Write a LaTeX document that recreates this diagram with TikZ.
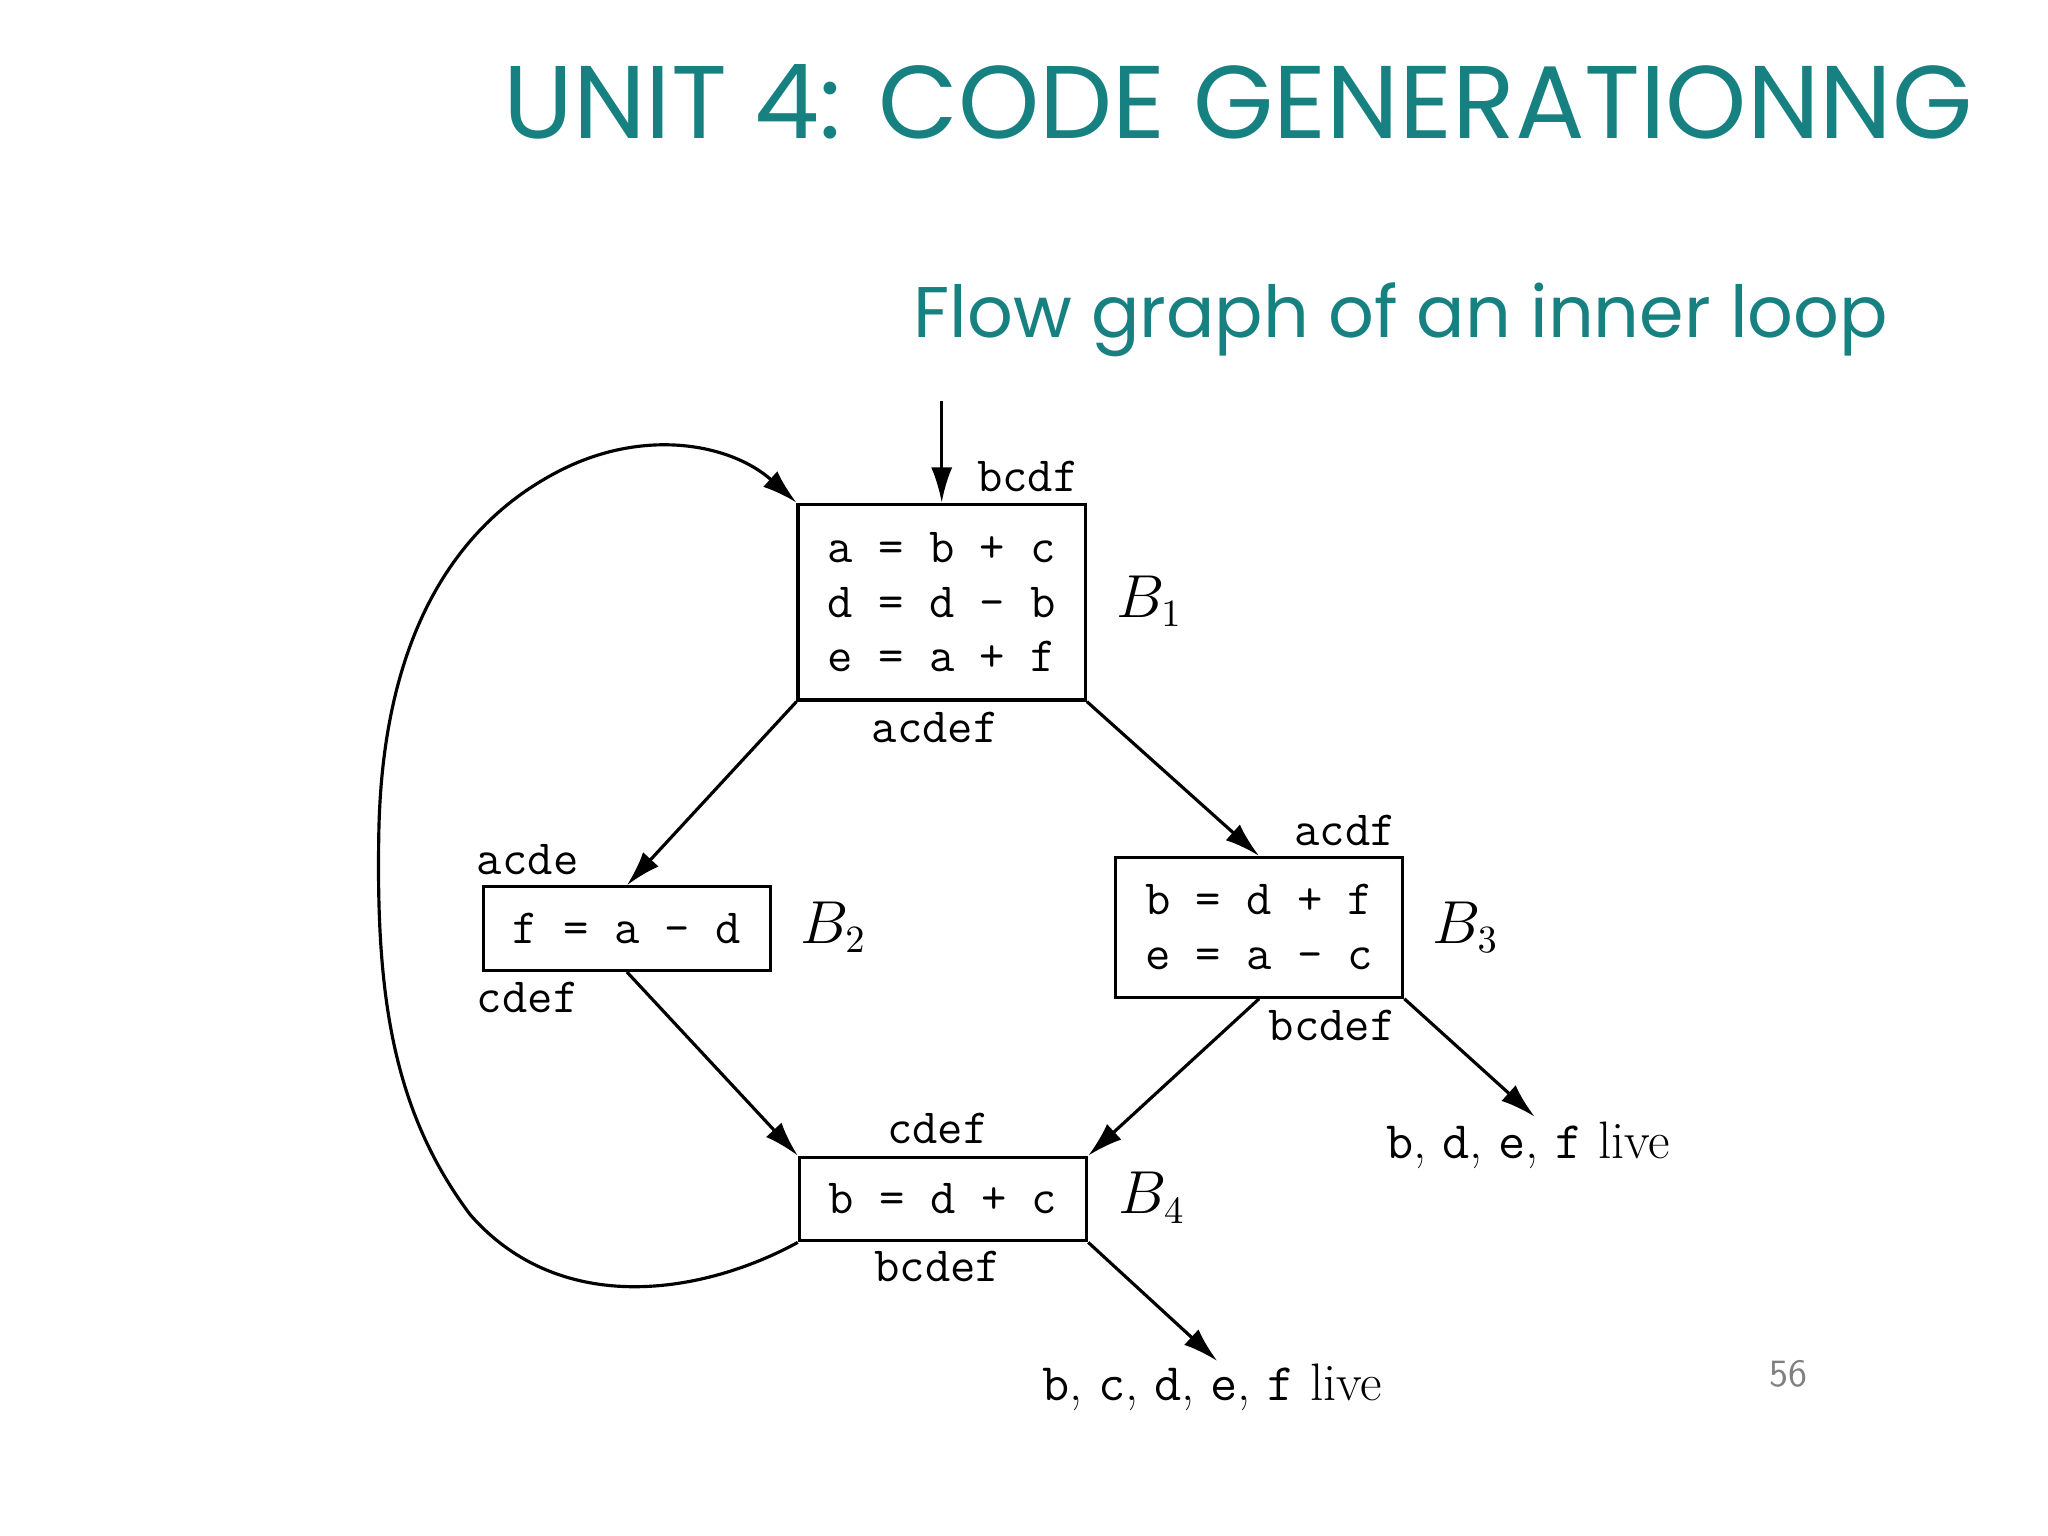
\documentclass[tikz,border=0pt]{standalone}
\usepackage{fontspec}
\newfontfamily\pop{Poppins}
\usetikzlibrary{arrows.meta}
\definecolor{teal1}{RGB}{23,128,128}
\begin{document}
\begin{tikzpicture}[x=0.01306cm,y=-0.01306cm,
  box/.style={draw,line width=0.9pt,rectangle,inner sep=0pt,align=left,font=\fontsize{14}{15.6}\selectfont\ttfamily},
  lab/.style={inner sep=0pt,font=\fontsize{14}{16}\selectfont\ttfamily},
  bl/.style={inner sep=0pt,font=\fontsize{16}{18}\selectfont},
  lv/.style={inner sep=0pt,font=\fontsize{15}{18}\selectfont},
  arr/.style={-{Latex[length=10pt,width=6pt]},line width=0.9pt}]
\useasboundingbox (0,0) rectangle (1568,1176);
\node[text=teal1,font=\pop\fontsize{29.4}{34}\selectfont,anchor=east] (title) at (1520,78) {UNIT 4: CODE GENERATIONNG};
\node[text=teal1,font=\pop\fontsize{20.4}{24}\selectfont,anchor=east] (sub) at (1455,245) {Flow graph of an inner loop};
\node[box,minimum width=2.873cm,minimum height=1.959cm] (B1) at (721,461) {a = b + c\\d = d - b\\e = a + f};
\node[box,minimum width=2.873cm,minimum height=0.836cm] (B2) at (480,711) {f = a - d};
\node[box,minimum width=2.873cm,minimum height=1.397cm] (B3) at (964,710) {b = d + f\\e = a - c};
\node[box,minimum width=2.873cm,minimum height=0.836cm] (B4) at (722,918) {b = d + c};
\node[lab] (l1) at (787,365) {bcdf};
\node[lab] (l2) at (716,557) {acdef};
\node[bl] (n1) at (880,460) {$B_1$};
\node[lab] (l3) at (404,658) {acde};
\node[lab] (l4) at (404,764) {cdef};
\node[bl] (n2) at (638,710) {$B_2$};
\node[lab] (l5) at (1030,636) {acdf};
\node[lab] (l6) at (1020,785) {bcdef};
\node[bl] (n3) at (1122,710) {$B_3$};
\node[lab] (l7) at (718,864) {cdef};
\node[lab] (l8) at (718,970) {bcdef};
\node[bl] (n4) at (882,917) {$B_4$};
\node[lv] (o1) at (1170,877) {\texttt{b}, \texttt{d}, \texttt{e}, \texttt{f} live};
\node[lv] (o2) at (928,1062) {\texttt{b}, \texttt{c}, \texttt{d}, \texttt{e}, \texttt{f} live};
\node[text=gray,font=\sffamily\fontsize{11}{12}\selectfont] (pg) at (1369,1052) {56};
\coordinate (in) at (721,307);
\coordinate (e1) at (1175,855);
\coordinate (e2) at (932,1042);
\draw[arr] (in) -- (B1.north);
\draw[arr] (B1.south west) -- (B2.north);
\draw[arr] (B1.south east) -- (B3.north);
\draw[arr] (B2.south) -- (B4.north west);
\draw[arr] (B3.south) -- (B4.north east);
\draw[arr] (B3.south east) -- (e1);
\draw[arr] (B4.south east) -- (e2);
\draw[arr] (B4.south west) .. controls (540,990) and (430,1010) .. (360,930)
  .. controls (300,850) and (288,760) .. (290,640)
  .. controls (292,500) and (340,410) .. (420,365)
  .. controls (490,325) and (560,340) .. (B1.north west);
\end{tikzpicture}
\end{document}
